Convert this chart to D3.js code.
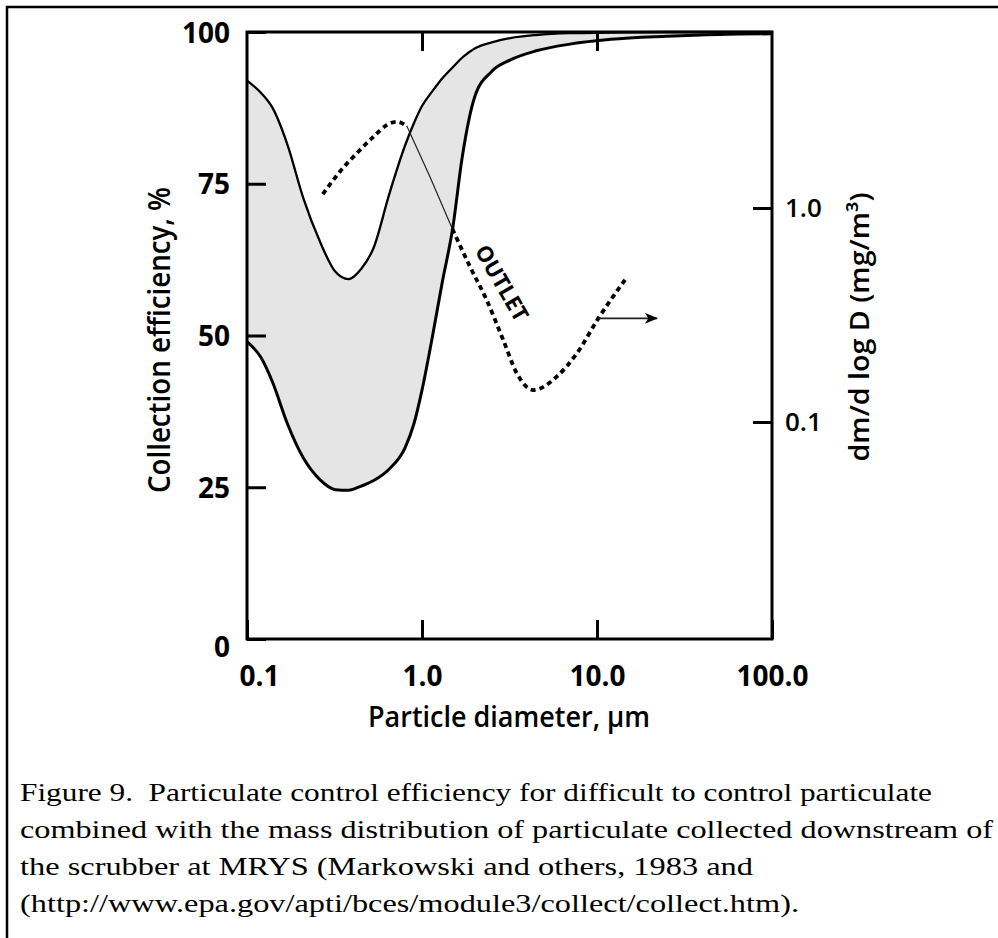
<!DOCTYPE html>
<html>
<head>
<meta charset="utf-8">
<script src="https://cdn.jsdelivr.net/npm/d3@7"></script>
<style>
  body { margin: 0; background: #fff; }
  svg { display: block; }
</style>
</head>
<body>
<div id="chart"></div>
<script>
// particle diameter (µm) shared by both efficiency curves
const diameters = [0.1, 0.12, 0.14, 0.17, 0.21, 0.26, 0.32, 0.38, 0.45, 0.53, 0.65, 0.8, 0.9,
    1.0, 1.15, 1.3, 1.5, 1.7, 2.0, 2.5, 3.2, 4.5, 7, 12, 25, 50, 100];
// upper and lower edge of the efficiency band, %
const upperEff = [92, 90, 87.5, 81.5, 72.6, 65.6, 60.5, 59.3, 61, 64.5, 73.3, 81.3, 85,
    87.8, 90.3, 92.3, 94.2, 95.8, 97.3, 98.3, 99, 99.5, 99.8, 99.9, 100, 100, 100];
const lowerEff = [49, 46.4, 42.3, 35.5, 29.8, 26.3, 24.6, 24.5, 25.2, 26.1, 28, 31.5, 35.5,
    41, 50, 58.5, 67.8, 79.5, 89.3, 93.5, 95.4, 96.9, 98, 98.8, 99.3, 99.6, 99.7];

// outlet mass distribution, dm/dlogD (mg/m3)
const outletDiam = [0.271, 0.34, 0.423, 0.527, 0.628, 0.717, 0.818, 1.11, 1.49, 1.88, 2.34,
    2.91, 3.48, 4.33, 5.89, 7.66, 10.18, 14.8];
const outletMass = [1.16, 1.48, 1.80, 2.15, 2.44, 2.53, 2.42, 1.40, 0.80, 0.532, 0.372,
    0.242, 0.169, 0.141, 0.163, 0.209, 0.305, 0.474];
const thinPart = [6, 8]; // this stretch is drawn as a thin solid line

// arrow pointing to the right-hand axis
const arrowDiam = [10.18, 22];
const arrowMass = 0.305;

const xTicks = [0.1, 1, 10, 100];
const xTickLabels = ["0.1", "1.0", "10.0", "100.0"];
const yTicks = [0, 25, 50, 75, 100];
const rTicks = [0.1, 1];
const rTickLabels = ["0.1", "1.0"];

const captionLines = [
    "Figure 9.  Particulate control efficiency for difficult to control particulate",
    "combined with the mass distribution of particulate collected downstream of",
    "the scrubber at MRYS (Markowski and others, 1983 and",
    "(http://www.epa.gov/apti/bces/module3/collect/collect.htm)."
];
const captionWidths = [912, 973, 733, 779];

const W = 998, H = 938;
const plot = {left: 247, right: 772, top: 32, bottom: 639};
const sans = "'Open Sans', sans-serif";
const serif = "'Liberation Serif', 'Times New Roman', Times, serif";

const svg = d3.select("#chart").append("svg")
    .attr("width", W)
    .attr("height", H);

// outer border (only left and top fall inside the picture)
svg.append("path")
    .attr("d", "M7," + H + " L7,7 L" + W + ",7")
    .attr("fill", "none")
    .attr("stroke", "#000")
    .attr("stroke-width", 2.5);

const x = d3.scaleLog().domain([0.1, 100]).range([plot.left, plot.right]);
const y = d3.scaleLinear().domain([0, 100]).range([plot.bottom, plot.top]);
const yR = d3.scaleLog().domain([0.00968, 6.645]).range([plot.bottom, plot.top]);

const band = diameters.map((d, i) => ({d: d, hi: upperEff[i], lo: lowerEff[i]}));

// grey band between the two efficiency curves
svg.append("path")
    .datum(band)
    .attr("fill", "#e4e5e4")
    .attr("d", d3.area()
        .curve(d3.curveMonotoneX)
        .x(d => x(d.d))
        .y0(d => y(d.lo))
        .y1(d => y(d.hi)));

const effLine = key => d3.line()
    .curve(d3.curveMonotoneX)
    .x(d => x(d.d))
    .y(d => y(d[key]));

svg.append("path").datum(band)
    .attr("fill", "none").attr("stroke", "#000").attr("stroke-width", 2.3)
    .attr("d", effLine("hi"));
svg.append("path").datum(band)
    .attr("fill", "none").attr("stroke", "#000").attr("stroke-width", 3)
    .attr("d", effLine("lo"));

// outlet curve
const outlet = outletDiam.map((d, i) => ({d: d, m: outletMass[i]}));
const outLine = d3.line()
    .curve(d3.curveMonotoneX)
    .x(d => x(d.d))
    .y(d => yR(d.m));

svg.append("path").datum(outlet.slice(0, thinPart[0] + 1))
    .attr("fill", "none").attr("stroke", "#000").attr("stroke-width", 3.8)
    .attr("stroke-dasharray", "5,4")
    .attr("d", outLine);
svg.append("path").datum(outlet.slice(thinPart[0], thinPart[1] + 1))
    .attr("fill", "none").attr("stroke", "#222").attr("stroke-width", 1.2)
    .attr("d", d3.line().x(d => x(d.d)).y(d => yR(d.m)));
svg.append("path").datum(outlet.slice(thinPart[1]))
    .attr("fill", "none").attr("stroke", "#000").attr("stroke-width", 3.8)
    .attr("stroke-dasharray", "5,4")
    .attr("d", outLine);

svg.append("defs").append("marker")
    .attr("id", "head")
    .attr("markerUnits", "userSpaceOnUse")
    .attr("viewBox", "0 0 12 10")
    .attr("refX", 11).attr("refY", 5)
    .attr("markerWidth", 13).attr("markerHeight", 11)
    .attr("orient", "auto")
    .append("path")
    .attr("d", "M0,0 L12,5 L0,10 L3,5 Z")
    .attr("fill", "#000");

svg.append("line")
    .attr("x1", x(arrowDiam[0])).attr("x2", x(arrowDiam[1]))
    .attr("y1", yR(arrowMass)).attr("y2", yR(arrowMass))
    .attr("stroke", "#222").attr("stroke-width", 1.6)
    .attr("marker-end", "url(#head)");

svg.append("text")
    .attr("transform", "translate(502,283) rotate(60)")
    .attr("text-anchor", "middle")
    .attr("dy", "0.36em")
    .attr("font-family", sans)
    .attr("font-weight", 700)
    .attr("font-size", 22)
    .attr("textLength", 84).attr("lengthAdjust", "spacingAndGlyphs")
    .text("OUTLET");

// frame
svg.append("rect")
    .attr("x", plot.left).attr("y", plot.top)
    .attr("width", plot.right - plot.left)
    .attr("height", plot.bottom - plot.top)
    .attr("fill", "none")
    .attr("stroke", "#000")
    .attr("stroke-width", 3);

function styleAxis(g) {
    g.select(".domain").remove();
    g.selectAll(".tick line").attr("stroke", "#000").attr("stroke-width", 3);
    g.selectAll(".tick text")
        .attr("fill", "#000")
        .attr("font-family", sans)
        .attr("font-weight", 700)
        .attr("font-size", 28);
}

// bottom axis
svg.append("g")
    .attr("transform", "translate(0," + plot.bottom + ")")
    .call(d3.axisBottom(x).tickValues(xTicks)
        .tickFormat((d, i) => xTickLabels[i])
        .tickSizeInner(-19).tickSizeOuter(0).tickPadding(27))
    .call(styleAxis)
    .selectAll(".tick text")
    .attr("dx", (d, i) => i === 0 ? 12 : 0);

// top axis, ticks only
svg.append("g")
    .attr("transform", "translate(0," + plot.top + ")")
    .call(d3.axisTop(x).tickValues(xTicks.slice(1, 3))
        .tickFormat("").tickSizeInner(-19).tickSizeOuter(0))
    .call(styleAxis);

// left axis
svg.append("g")
    .attr("transform", "translate(" + plot.left + ",0)")
    .call(d3.axisLeft(y).tickValues(yTicks)
        .tickSizeInner(-19).tickSizeOuter(0).tickPadding(17))
    .call(styleAxis)
    .selectAll(".tick text")
    .attr("dy", d => d === 0 ? "0.62em" : "0.36em");

// right axis
svg.append("g")
    .attr("transform", "translate(" + plot.right + ",0)")
    .call(d3.axisRight(yR).tickValues(rTicks)
        .tickFormat((d, i) => rTickLabels[i])
        .tickSizeInner(-19).tickSizeOuter(0).tickPadding(13))
    .call(styleAxis)
    .selectAll(".tick text")
    .attr("font-size", 26)
    .attr("font-weight", 600);

// axis titles
svg.append("text")
    .attr("transform", "translate(170,340) rotate(-90)")
    .attr("text-anchor", "middle")
    .attr("font-family", sans).attr("font-weight", 600).attr("font-size", 30)
    .attr("textLength", 306).attr("lengthAdjust", "spacingAndGlyphs")
    .text("Collection efficiency, %");

svg.append("text")
    .attr("transform", "translate(869,327) rotate(-90)")
    .attr("text-anchor", "middle")
    .attr("font-family", sans).attr("font-weight", 600).attr("font-size", 27)
    .attr("textLength", 269).attr("lengthAdjust", "spacingAndGlyphs")
    .text("dm/d log D (mg/m³)");

svg.append("text")
    .attr("x", 509).attr("y", 727)
    .attr("text-anchor", "middle")
    .attr("font-family", sans).attr("font-weight", 600).attr("font-size", 28)
    .attr("textLength", 282).attr("lengthAdjust", "spacingAndGlyphs")
    .text("Particle diameter, µm");

// caption
svg.append("g").selectAll("text")
    .data(captionLines)
    .join("text")
    .attr("x", 20)
    .attr("y", (d, i) => 801 + i * 37)
    .style("font-family", serif)
    .style("font-size", "26px")
    .attr("textLength", (d, i) => captionWidths[i])
    .attr("lengthAdjust", "spacingAndGlyphs")
    .style("white-space", "pre")
    .text(d => d);
</script>
</body>
</html>
